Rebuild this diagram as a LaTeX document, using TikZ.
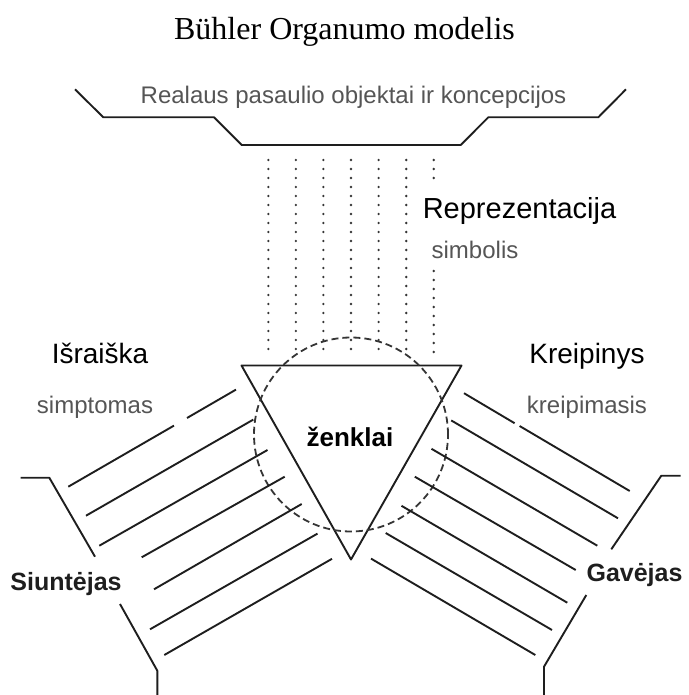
\documentclass[tikz,border=0pt]{standalone}
\usepackage{fontspec}
\setmainfont{Liberation Serif}
\newfontfamily\sansfont{Liberation Sans}
\usepackage{tikz}
\usetikzlibrary{positioning}
\definecolor{inkgray}{RGB}{30, 30, 30}
\definecolor{labelgray}{RGB}{85, 85, 85}
\tikzstyle{stroke} = [draw=inkgray, line width=1.9pt, line join=round]
\tikzstyle{dotline} = [draw=inkgray!90, line width=2.6pt, line cap=round, dash pattern=on 0pt off 9pt]
\tikzstyle{ring} = [draw=inkgray!90, line width=1.8pt, dash pattern=on 7pt off 4pt]
\tikzstyle{heading} = [anchor=base, inner sep=0pt, text=black, font=\sansfont\fontsize{28}{34}\selectfont]
\tikzstyle{sublabel} = [anchor=base, inner sep=0pt, text=labelgray, font=\sansfont\fontsize{24}{29}\selectfont]
\tikzstyle{party} = [anchor=base, inner sep=0pt, text=inkgray, font=\sansfont\bfseries\fontsize{25}{30}\selectfont]

\begin{document}
\begin{tikzpicture}[x=1pt, y=-1pt]
    \useasboundingbox (0,0) rectangle (688,695);

    % titles and labels
    \node (title) [anchor=base, inner sep=0pt, font=\fontsize{32}{38}\selectfont] at (344.5,40) {Bühler Organumo modelis};
    \node (world) [sublabel] at (353.5,103.5) {Realaus pasaulio objektai ir koncepcijos};
    \node (repr) [heading, font=\sansfont\fontsize{29}{35}\selectfont] at (519.5,218) {Reprezentacija};
    \node (symb) [sublabel] at (475,258) {simbolis};
    \node (expr) [heading] at (100,363.5) {Išraiška};
    \node (symp) [sublabel] at (95,413.5) {simptomas};
    \node (appeal) [heading] at (587,363.5) {Kreipinys};
    \node (sig) [sublabel] at (587,413.5) {kreipimasis};
    \node (signs) [anchor=base, inner sep=0pt, font=\sansfont\bfseries\fontsize{26}{31}\selectfont] at (350,446.5) {ženklai};
    \node (sender) [party] at (66,590.5) {Siuntėjas};
    \node (receiver) [party] at (634.5,581.5) {Gavėjas};

    % the world above
    \draw [stroke] (75,89.3) -- (103.3,117.3) -- (214,117.3) -- (241.7,145) -- (460.7,145) -- (488.3,117.3) -- (598.3,117.3) -- (626,89.3);

    % representation rays
    \draw [dotline] (268.3,160) -- (268.3,352);
    \draw [dotline] (295.8,160) -- (295.8,352);
    \draw [dotline] (323.4,160) -- (323.4,352);
    \draw [dotline] (351,160) -- (351,352);
    \draw [dotline] (378.6,160) -- (378.6,352);
    \draw [dotline] (406.2,160) -- (406.2,352);
    \draw [dotline] (433.7,160) -- (433.7,180);
    \draw [dotline] (433.7,271) -- (433.7,352);

    % sign: triangle and circle
    \draw [stroke] (241.5,365.5) -- (461.5,365.5) -- (351,559.5) -- cycle;
    \draw [ring] (351,434.5) circle [radius=97pt];

    % expression rays (left)
    \draw [stroke] (68.3,486.7) -- (174,425.6);
    \draw [stroke] (187,418) -- (236,389.6);
    \draw [stroke] (86,515.7) -- (253.3,419.6);
    \draw [stroke] (99.3,545.7) -- (267.5,450);
    \draw [stroke] (141.7,557.3) -- (284.7,476.7);
    \draw [stroke] (154,589.3) -- (301.7,504);
    \draw [stroke] (150,629.3) -- (317.5,533.6);
    \draw [stroke] (164.3,655) -- (332,558.8);

    % appeal rays (right)
    \draw [stroke] (464,393.2) -- (514.6,423.2);
    \draw [stroke] (519.6,426) -- (629.7,491);
    \draw [stroke] (451.2,420.4) -- (618,518.3);
    \draw [stroke] (431.5,448.8) -- (597.3,545.7);
    \draw [stroke] (414.8,476.7) -- (575.7,570);
    \draw [stroke] (401.5,505.8) -- (567.3,602.7);
    \draw [stroke] (385.7,533) -- (552,630);
    \draw [stroke] (371,558.6) -- (535.3,655);

    % sender and receiver brackets
    \draw [stroke] (20.7,477.7) -- (49.3,477.7) -- (95,556.7);
    \draw [stroke] (120,604) -- (157.3,670.7) -- (157.3,695);
    \draw [stroke] (680.7,475.7) -- (661.3,475.7) -- (611.3,549.3);
    \draw [stroke] (586.3,595) -- (544,666.7) -- (544,695);
\end{tikzpicture}
\end{document}
